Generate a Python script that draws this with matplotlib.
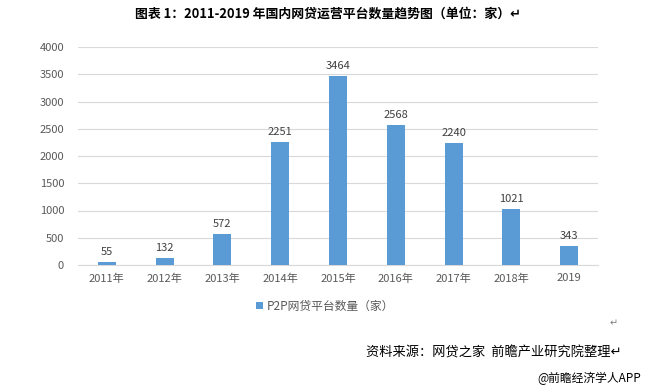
import matplotlib
matplotlib.use("Agg")
import matplotlib.pyplot as plt

plt.rcParams['font.family'] = ['Noto Sans CJK SC', 'DejaVu Sans']

years = ['2011年', '2012年', '2013年', '2014年', '2015年', '2016年', '2017年', '2018年', '2019']
values = [55, 132, 572, 2251, 3464, 2568, 2240, 1021, 343]
series_name = 'P2P网贷平台数量（家）'

fig = plt.figure(figsize=(6.46, 3.90), dpi=100)
ax = fig.add_axes([78/646, 1-265/390, (598-78)/646, (265-47)/390])

x = list(range(len(years)))
bars = ax.bar(x, values, width=0.31, color='#5B9BD5', label=series_name, zorder=3)
for xi, v in zip(x, values):
    ax.text(xi, v + 90, str(v), ha='center', va='bottom', fontsize=8, color='#404040')

ax.set_xlim(-0.5, len(years) - 0.5)
ax.set_ylim(0, 4000)
ax.set_yticks(range(0, 4001, 500))
ax.set_xticks(x)
ax.set_xticklabels(years)
ax.tick_params(axis='both', labelsize=8, colors='#595959', length=0, pad=6)
ax.tick_params(axis='y', pad=10)
ax.grid(axis='y', color='#D9D9D9', linewidth=0.8, zorder=0)
for s in ['top', 'right', 'left']:
    ax.spines[s].set_visible(False)
ax.spines['bottom'].set_color('#D9D9D9')

leg = fig.legend(handles=[bars], labels=[series_name], loc='center', bbox_to_anchor=(325/646, 1-306/390),
                 frameon=False, fontsize=8.5, handlelength=0.6, handleheight=0.6, handletextpad=0.3)
for t in leg.get_texts():
    t.set_color('#595959')

fig.text(328/646, 1-14/390, '图表 1：2011-2019 年国内网贷运营平台数量趋势图（单位：家）↵',
         ha='center', va='center', fontsize=9.3, fontweight='bold', color='black')
fig.text(614/646, 1-323/390, '↵', ha='center', va='center', fontsize=7, color='#808080')
fig.text(622/646, 1-353/390, '资料来源：网贷之家  前瞻产业研究院整理↵', ha='right', va='center',
         fontsize=9.5, style='italic', color='black')
fig.text(641/646, 1-378/390, '@前瞻经济学人APP', ha='right', va='center', fontsize=8.5, color='black')

fig.savefig('out.png', dpi=100)
